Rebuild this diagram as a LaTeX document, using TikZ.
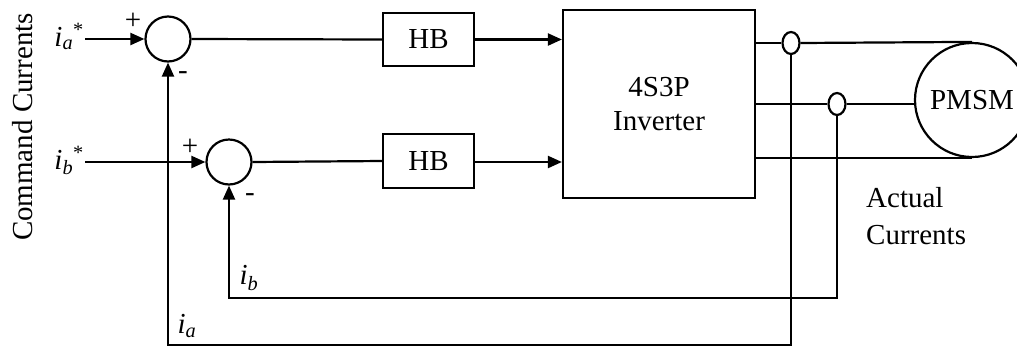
\documentclass[tikz,border=0pt]{standalone}
\usepackage{fontspec}
\setmainfont{Liberation Serif}
\usetikzlibrary{arrows.meta,shapes.geometric}
\newcommand{\cur}[1]{\textit{i}\textsubscript{\textit{#1}}}
\begin{document}
\begin{tikzpicture}[x=1pt,y=-1pt,
  every node/.style={font=\fontsize{29}{36}\selectfont, inner sep=0pt},
  wire/.style={line width=2.2pt},
  arr/.style={wire, -{Triangle[length=14pt,width=12pt]}},
  sumj/.style={draw, circle, line width=2.2pt, minimum size=45pt},
  blk/.style={draw, rectangle, line width=2.2pt},
  sensor/.style={draw, ellipse, line width=2.2pt, fill=white, minimum width=17pt, minimum height=22pt}]
\useasboundingbox (0,0) rectangle (1017,349);
% nodes
\node[sumj] (s1) at (168,39) {};
\node[sumj] (s2) at (229,162) {};
\node[blk, minimum width=91pt, minimum height=53pt] (hb1) at (428.5,39.5) {HB};
\node[blk, minimum width=91pt, minimum height=54pt] (hb2) at (428.5,161) {HB};
\node[blk, minimum width=192pt, minimum height=188pt, align=center] (inv) at (659,104) {4S3P\\[-2pt]Inverter};
\node[draw, circle, line width=2.2pt, minimum size=114pt] (pm) at (972,100) {PMSM};
\node[sensor] (sa) at (791,43) {};
\node[sensor] (sb) at (837,104) {};
\coordinate (ina) at (85,39);
\coordinate (inb) at (85,162);
\coordinate (fa) at (791,345);
\coordinate (fb) at (837,298);
% labels
\node[anchor=base east] (la) at (84,46) {\cur{a}\textsuperscript{*}};
\node[anchor=base east] (lb) at (84,169) {\cur{b}\textsuperscript{*}};
\node (p1) at (133,21) {+};
\node (p2) at (190,147) {+};
\node (m1) at (183,76) {-};
\node (m2) at (250,198) {-};
\node (lib) at (249,278) {\cur{b}};
\node (lia) at (187,326) {\cur{a}};
\node[rotate=90] (cc) at (23,127) {Command Currents};
\node[anchor=west, align=left] (ac) at (866,216) {Actual\\[1pt]Currents};
% connectors
\draw[arr] (ina) -- (s1.west);
\draw[arr] (inb) -- (s2.west);
\draw[wire] (s1.east) -- (hb1.west);
\draw[wire] (s2.east) -- (hb2.west);
\draw[arr] (hb1.east) -- (hb1.east -| inv.west);
\draw[arr] (hb2.east |- s2) -- (s2 -| inv.west);
\draw[wire] (inv.east |- sa) -- (sa.west);
\draw[wire] (sa.east) -- (pm.north);
\draw[wire] (inv.east |- sb) -- (sb.west);
\draw[wire] (sb.east) -- (sb.east -| pm.west);
\draw[wire] (inv.east |- pm.south) -- (pm.south);
\draw[arr] (sa.south) -- (fa) -| (s1.south);
\draw[arr] (sb.south) -- (fb) -| (s2.south);
\end{tikzpicture}
\end{document}
